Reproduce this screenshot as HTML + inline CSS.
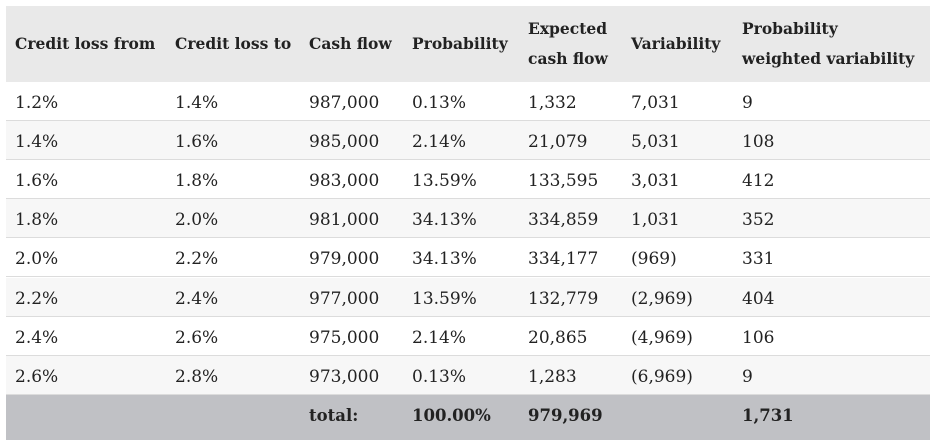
<!DOCTYPE html>
<html><head><style>
body{margin:0;width:938px;height:448px;background:#fff;font-family:"DejaVu Serif","Liberation Serif",serif;color:#222;font-size:17px;overflow:hidden}
.r{position:absolute;left:6px;width:924px}
.c{position:absolute;white-space:nowrap}
.h{background:#e9e9e9;top:6px;height:76px;font-weight:bold;font-size:15.5px}
.d{height:38px;border-bottom:1px solid #dcdcdc}
.f{background:#c0c1c5;top:395px;height:45px;font-weight:bold;font-size:16.5px}
</style></head><body>
<div id="t"></div>
<script>
var xs=[9,169,303,406,522,625,736];
var rows=[["1.2%","1.4%","987,000","0.13%","1,332","7,031","9"],
["1.4%","1.6%","985,000","2.14%","21,079","5,031","108"],
["1.6%","1.8%","983,000","13.59%","133,595","3,031","412"],
["1.8%","2.0%","981,000","34.13%","334,859","1,031","352"],
["2.0%","2.2%","979,000","34.13%","334,177","(969)","331"],
["2.2%","2.4%","977,000","13.59%","132,779","(2,969)","404"],
["2.4%","2.6%","975,000","2.14%","20,865","(4,969)","106"],
["2.6%","2.8%","973,000","0.13%","1,283","(6,969)","9"]];
var h='<div class="r h">';
var hd=["Credit loss from","Credit loss to","Cash flow","Probability","Expected<br>cash flow","Variability","Probability<br>weighted variability"];
hd.forEach(function(t,i){var two=t.indexOf('<br>')>0;h+='<div class="c" style="left:'+xs[i]+'px;top:'+(two?8:23)+'px;line-height:30px">'+t+'</div>'});
h+='</div>';
rows.forEach(function(r,j){var top=82+j*39.1;h+='<div class="r d" style="top:'+top+'px;background:'+(j%2?'#f7f7f7':'#fff')+'">';
r.forEach(function(t,i){h+='<div class="c" style="left:'+xs[i]+'px;top:11px">'+t+'</div>'});h+='</div>'});
h+='<div class="r f">';
[["total:",2],["100.00%",3],["979,969",4],["1,731",6]].forEach(function(p){h+='<div class="c" style="left:'+xs[p[1]]+'px;top:11px">'+p[0]+'</div>'});
h+='</div>';
document.getElementById('t').innerHTML=h;
</script>
</body></html>
